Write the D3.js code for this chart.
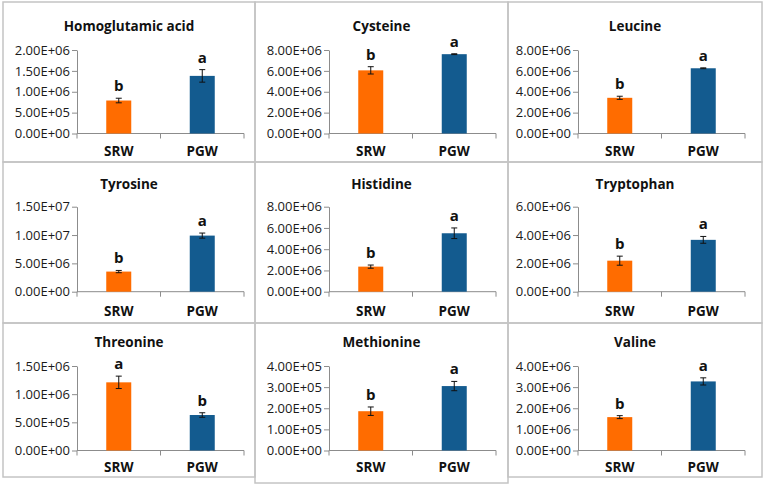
<!DOCTYPE html>
<html>
<head>
<meta charset="utf-8">
<script src="https://cdn.jsdelivr.net/npm/d3@7"></script>
<style>
  html, body { margin: 0; padding: 0; background: #fff; }
  svg { display: block; }
</style>
</head>
<body>
<div id="chart"></div>
<script>
// data
const groups = ["SRW", "PGW"];
const titles = ["Homoglutamic acid", "Cysteine", "Leucine",
                "Tyrosine", "Histidine", "Tryptophan",
                "Threonine", "Methionine", "Valine"];
const means = [
  [7.9e5, 1.38e6], [6.05e6, 7.6e6], [3.42e6, 6.25e6],
  [3.55e6, 9.9e6], [2.36e6, 5.5e6], [2.19e6, 3.66e6],
  [1.21e6, 6.3e5], [1.86e5, 3.05e5], [1.58e6, 3.27e6]
];
const errors = [
  [5.5e4, 1.5e5], [3.5e5, 4e4], [1.5e5, 4e4],
  [2e5, 4.5e5], [1.5e5, 5e5], [3.2e5, 2.4e5],
  [1.1e5, 4e4], [2e4, 2.2e4], [7e4, 1.7e5]
];
const letters = [
  ["b", "a"], ["b", "a"], ["b", "a"],
  ["b", "a"], ["b", "a"], ["b", "a"],
  ["a", "b"], ["b", "a"], ["b", "a"]
];
const yMax = [2e6, 8e6, 8e6, 1.5e7, 8e6, 6e6, 1.5e6, 4e5, 4e6];
const yStep = [5e5, 2e6, 2e6, 5e6, 2e6, 2e6, 5e5, 1e5, 1e6];

const colors = ["#ff6c00", "#135b8f"];

// layout
const W = 765, H = 490;
const colEdges = [3, 255, 508, 762];
const rowTops = [2, 162, 323];
const rowBottoms = [[162, 162, 162], [323, 323, 323], [477, 483, 477]];
const axisLeft = [77, 329, 578];
const plotW = 167;
const plotY = [[50, 133.5], [206.7, 291.7], [366, 450.5]];
const titleY = [31, 189, 347];
const xLabelY = [156, 316, 472];

const svg = d3.select("#chart").append("svg")
  .attr("width", W).attr("height", H);

const fmt = v => {
  const [m, e] = v.toExponential(2).split("e");
  const sign = e[0] === "-" ? "-" : "+";
  const digits = e.replace(/[+-]/, "").padStart(2, "0");
  return m + "E" + sign + digits;
};

titles.forEach((title, i) => {
  const r = Math.floor(i / 3), c = i % 3;

  // panel frame
  svg.append("rect")
    .attr("x", colEdges[c]).attr("y", rowTops[r])
    .attr("width", colEdges[c + 1] - colEdges[c])
    .attr("height", rowBottoms[r][c] - rowTops[r])
    .attr("fill", "none")
    .attr("stroke", "#c4c4c4")
    .attr("stroke-width", 1.5);

  const x0 = axisLeft[c];
  const [yTop, yBot] = plotY[r];

  const xOuter = d3.scaleBand().domain(groups).range([x0, x0 + plotW]);
  const y = d3.scaleLinear().domain([0, yMax[i]]).range([yBot, yTop]);

  const g = svg.append("g");

  // title
  g.append("text")
    .attr("x", (colEdges[c] + colEdges[c + 1]) / 2)
    .attr("y", titleY[r])
    .attr("text-anchor", "middle")
    .attr("font-family", "'Open Sans', sans-serif")
    .attr("font-weight", "bold")
    .attr("font-size", 13.5)
    .attr("fill", "#111")
    .text(title);

  // y axis
  const ticks = d3.range(0, yMax[i] + yStep[i] / 2, yStep[i]);
  const yAxis = g.append("g")
    .attr("transform", `translate(${x0},0)`)
    .call(d3.axisLeft(y).tickValues(ticks).tickFormat(fmt).tickSize(5).tickPadding(2).tickSizeOuter(0));
  yAxis.select(".domain").attr("stroke", "#8c8c8c");
  yAxis.selectAll(".tick line").attr("stroke", "#8c8c8c");
  yAxis.selectAll(".tick text")
    .attr("font-family", "'Open Sans', sans-serif")
    .attr("font-size", 13)
    .attr("fill", "#1a1a1a");

  // x axis: ticks at category boundaries
  const xAxisG = g.append("g");
  xAxisG.append("line")
    .attr("x1", x0).attr("x2", x0 + plotW)
    .attr("y1", yBot).attr("y2", yBot)
    .attr("stroke", "#8c8c8c");
  const bounds = [xOuter(groups[0]), xOuter(groups[1]), xOuter(groups[1]) + xOuter.bandwidth()];
  xAxisG.selectAll("line.tk").data(bounds).enter().append("line")
    .attr("class", "tk")
    .attr("x1", d => d).attr("x2", d => d)
    .attr("y1", yBot).attr("y2", yBot + 5)
    .attr("stroke", "#8c8c8c");
  xAxisG.selectAll("text").data(groups).enter().append("text")
    .attr("x", d => xOuter(d) + xOuter.bandwidth() / 2)
    .attr("y", xLabelY[r])
    .attr("text-anchor", "middle")
    .attr("font-family", "'Open Sans', sans-serif")
    .attr("font-weight", "bold")
    .attr("font-size", 13.5)
    .attr("fill", "#111")
    .text(d => d);

  // bars
  const rows = groups.map((gname, k) => ({ g: gname, v: means[i][k], e: errors[i][k], l: letters[i][k], k }));
  g.selectAll("rect.bar").data(rows).enter().append("rect")
    .attr("class", "bar")
    .attr("x", d => xOuter(d.g) + (xOuter.bandwidth() - 25) / 2)
    .attr("width", 25)
    .attr("y", d => y(d.v))
    .attr("height", d => yBot - y(d.v))
    .attr("fill", d => colors[d.k]);

  // error bars
  const cx = d => xOuter(d.g) + xOuter.bandwidth() / 2;
  const eb = g.selectAll("g.err").data(rows).enter().append("g")
    .attr("stroke", "#111").attr("stroke-width", 1);
  eb.append("line")
    .attr("x1", cx).attr("x2", cx)
    .attr("y1", d => y(d.v + d.e)).attr("y2", d => y(d.v - d.e));
  eb.append("line")
    .attr("x1", d => cx(d) - 3).attr("x2", d => cx(d) + 3)
    .attr("y1", d => y(d.v + d.e)).attr("y2", d => y(d.v + d.e));
  eb.append("line")
    .attr("x1", d => cx(d) - 3).attr("x2", d => cx(d) + 3)
    .attr("y1", d => y(d.v - d.e)).attr("y2", d => y(d.v - d.e));

  // significance letters
  g.selectAll("text.sig").data(rows).enter().append("text")
    .attr("class", "sig")
    .attr("x", cx)
    .attr("y", d => y(d.v + d.e) - 7)
    .attr("text-anchor", "middle")
    .attr("font-family", "'Open Sans', sans-serif")
    .attr("font-weight", "bold")
    .attr("font-size", 15)
    .attr("fill", "#111")
    .text(d => d.l);
});
</script>
</body>
</html>
